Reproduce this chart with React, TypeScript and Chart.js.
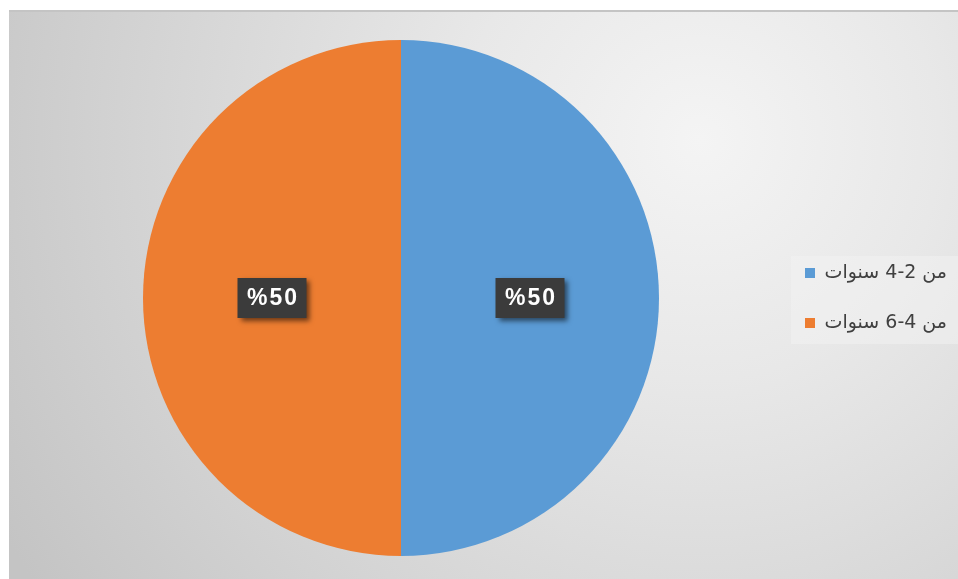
import React, { useEffect, useRef } from "react";
import { Chart, registerables } from "chart.js";

Chart.register(...registerables);

const categories = ["من 2\u200F-\u200F4 سنوات", "من 4\u200F-\u200F6 سنوات"];
const values = [50, 50];
const valueLabels = ["%50", "%50"];
const colors = ["#5B9BD5", "#ED7D31"];

const bgPlugin = {
  id: "bgPlugin",
  beforeDraw(chart: any) {
    const ctx = chart.ctx;
    const W = chart.width;
    const H = chart.height;
    ctx.save();
    ctx.fillStyle = "#ffffff";
    ctx.fillRect(0, 0, W, H);
    const g = ctx.createRadialGradient(700, 140, 0, 700, 140, 800);
    g.addColorStop(0, "#f4f4f4");
    g.addColorStop(0.3, "#e8e8e8");
    g.addColorStop(1, "#c4c4c4");
    ctx.fillStyle = g;
    ctx.fillRect(9, 10, W - 9, H - 10);
    ctx.fillStyle = "#c4c4c4";
    ctx.fillRect(9, 10, W - 9, 2);
    ctx.restore();
  },
};

const labelPlugin = {
  id: "labelPlugin",
  afterDatasetsDraw(chart: any) {
    const ctx = chart.ctx;
    const meta = chart.getDatasetMeta(0);
    meta.data.forEach((arc: any, i: number) => {
      const p = arc.tooltipPosition();
      const w = 69;
      const h = 40;
      ctx.save();
      ctx.shadowColor = "rgba(0,0,0,0.55)";
      ctx.shadowBlur = 5;
      ctx.shadowOffsetX = 3;
      ctx.shadowOffsetY = 3;
      ctx.fillStyle = "#3b3b3b";
      ctx.fillRect(p.x - w / 2, p.y - h / 2, w, h);
      ctx.restore();
      ctx.save();
      ctx.fillStyle = "#ffffff";
      ctx.font = "bold 23px 'Liberation Sans', Arial, sans-serif";
      (ctx as any).letterSpacing = "2px";
      ctx.textAlign = "center";
      ctx.textBaseline = "middle";
      ctx.fillText(valueLabels[i], p.x + 1, p.y + 1);
      ctx.restore();
    });
  },
};

const legendPlugin = {
  id: "legendPlugin",
  afterDraw(chart: any) {
    const ctx = chart.ctx;
    const x0 = 791;
    const y0 = 256;
    ctx.save();
    ctx.fillStyle = "rgba(245,245,245,0.45)";
    ctx.fillRect(x0, y0, chart.width - x0, 88);
    const labels = chart.data.labels as string[];
    const bgs = chart.data.datasets[0].backgroundColor as string[];
    labels.forEach((lab: string, i: number) => {
      const cy = 273 + i * 50;
      ctx.fillStyle = bgs[i];
      ctx.fillRect(805, cy - 5, 10, 10);
      ctx.fillStyle = "#404040";
      ctx.font = "19px 'DejaVu Sans', sans-serif";
      (ctx as any).direction = "rtl";
      ctx.textAlign = "right";
      ctx.textBaseline = "middle";
      ctx.fillText(lab, 947, cy);
    });
    ctx.restore();
  },
};

export default function App() {
  const ref = useRef<HTMLCanvasElement | null>(null);
  useEffect(() => {
    document.body.style.margin = "0";
    const canvas = ref.current!;
    const chart = new Chart(canvas, {
      type: "pie",
      data: {
        labels: categories,
        datasets: [
          {
            data: values,
            backgroundColor: colors,
            borderWidth: 0,
          },
        ],
      },
      options: {
        animation: false,
        responsive: false,
        events: [],
        layout: { padding: { left: 143, right: 299, top: 40, bottom: 23 } },
        plugins: {
          legend: { display: false },
          tooltip: { enabled: false },
        },
      },
      plugins: [bgPlugin, labelPlugin, legendPlugin],
    });
    return () => chart.destroy();
  }, []);
  return (
    <div style={{ width: 958, height: 579, overflow: "hidden" }}>
      <canvas ref={ref} width={958} height={579} style={{ display: "block" }} />
    </div>
  );
}
